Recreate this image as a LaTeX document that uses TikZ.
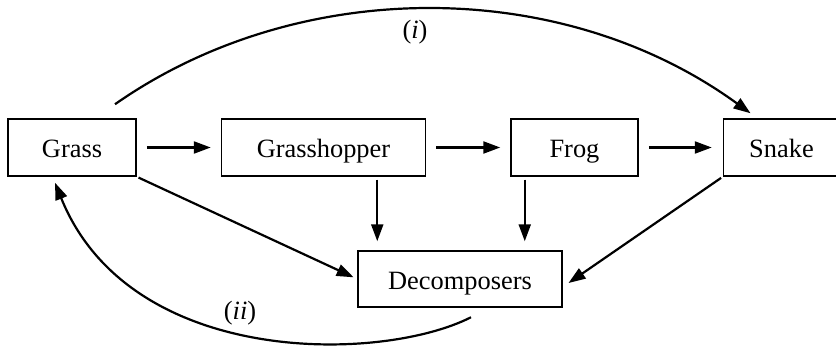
\documentclass[tikz,border=0pt]{standalone}
\usepackage{fontspec}
\setmainfont{Liberation Serif}
\usetikzlibrary{positioning,arrows.meta}

\begin{document}
\begin{tikzpicture}[x=1pt, y=1pt, node distance=84pt,
	box/.style={draw, line width=1.5pt, minimum height=57pt, inner sep=0pt, text height=20pt, text depth=0pt, font=\fontsize{26.4pt}{30pt}\selectfont},
	lbl/.style={inner sep=0pt, font=\fontsize{26.4pt}{30pt}\selectfont},
	arr/.style={line width=2.2pt, -{Triangle[length=17pt, width=12pt]}}]
	\useasboundingbox (0,0) rectangle (836,346);

	\node[box, minimum width=128pt] (grass) at (72,198.5) {Grass};
	\node[box, minimum width=204pt] (hopper)[right=of grass] {Grasshopper};
	\node[box, minimum width=127pt] (frog)[right=of hopper] {Frog};
	\node[box, minimum width=116pt] (snake)[right=of frog] {Snake};
	\node[box, minimum width=204pt, minimum height=56pt] (dec) at (460,67) {Decomposers};

	\coordinate (hd) at ([xshift=20pt]dec.north west);
	\coordinate (fd) at ([xshift=-38pt]dec.north east);

	\path[arr]
		(grass) edge[shorten <=10pt, shorten >=10pt] (hopper)
		(hopper) edge[shorten <=10pt, shorten >=10pt] (frog)
		(frog) edge[shorten <=10pt, shorten >=11pt] (snake)
		(hopper.south -| hd) edge[shorten <=3pt, shorten >=9pt] (hd)
		(frog.south -| fd) edge[shorten <=3pt, shorten >=9pt] (fd)
		(grass.south east) edge[shorten <=2pt, shorten >=4pt] (dec.west)
		(snake.south west) edge[shorten <=2pt, shorten >=7pt] ([yshift=-8pt]dec.east)
		% food chain skip (i) and return to the soil (ii)
		([shift={(43pt,14pt)}]grass.north) edge[out=35, in=144, out distance=223pt, in distance=234pt] ([shift={(-31pt,5pt)}]snake.north)
		([shift={(11pt,-9.5pt)}]dec.south) edge[out=207, in=-68, out distance=100pt, in distance=200pt] ([shift={(-17pt,-6pt)}]grass.south)
	;

	\node[lbl] (i) at (415,314) {(\textit{i})};
	\node[lbl] (ii) at (240,33) {(\textit{ii})};
\end{tikzpicture}
\end{document}
